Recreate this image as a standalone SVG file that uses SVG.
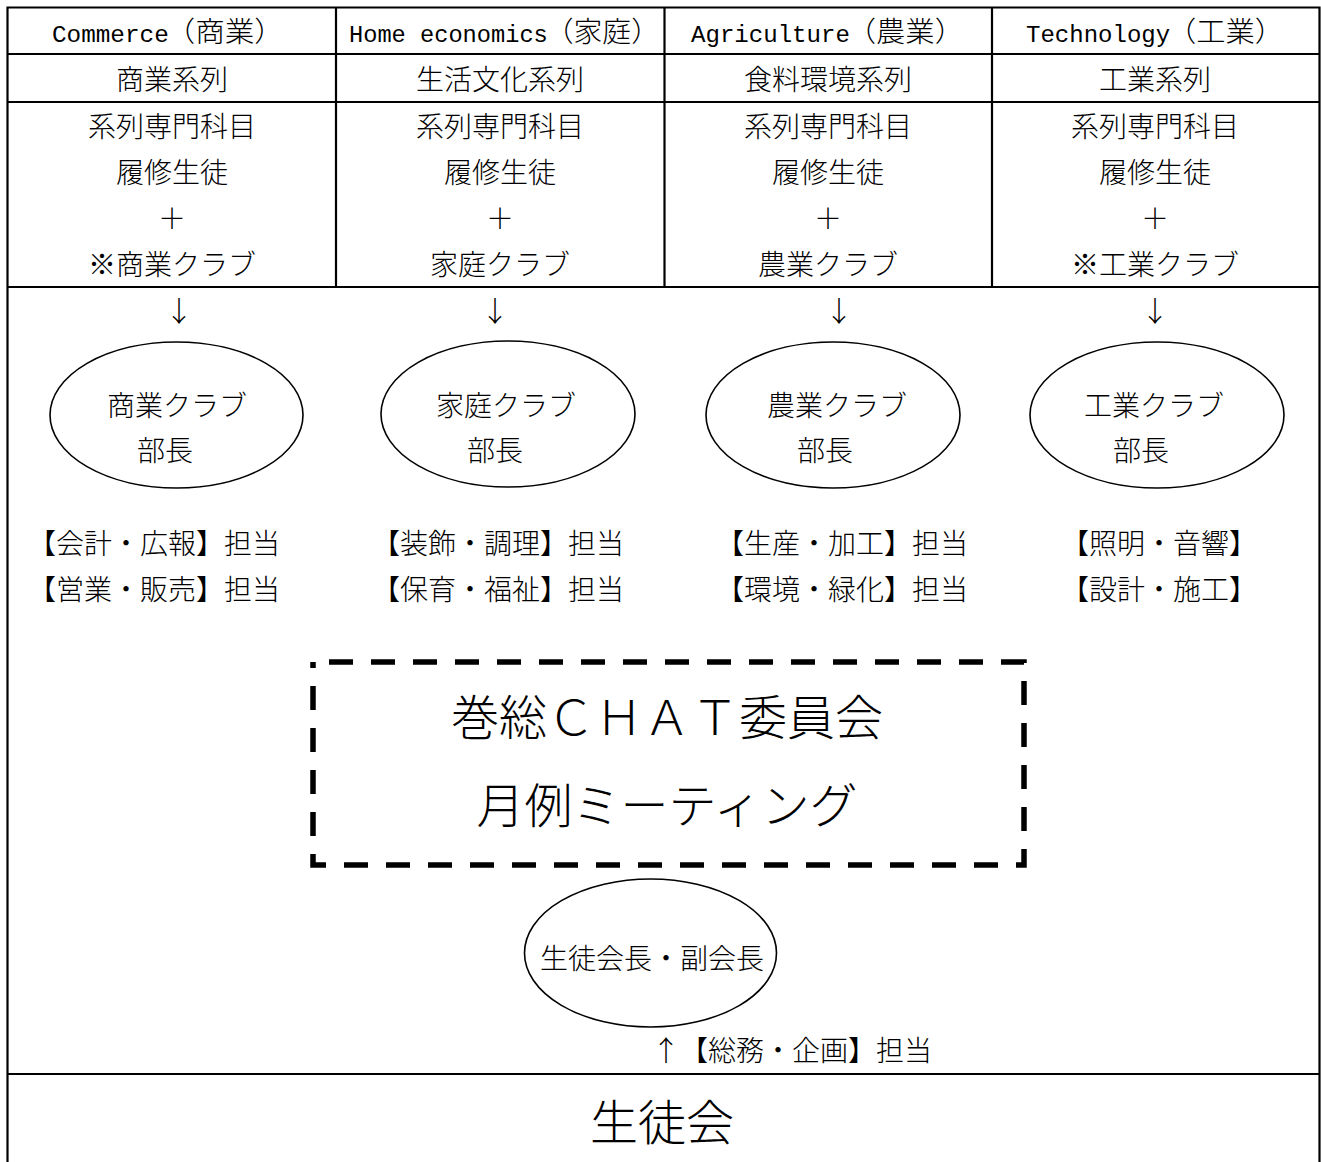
<svg xmlns="http://www.w3.org/2000/svg" width="1321" height="1162" viewBox="0 0 1321 1162">
<style>
.t { font-family: 'Noto Sans CJK JP', sans-serif; font-size: 28px; font-weight: 300; fill: #000; }
.m { text-anchor: middle; }
.lat { font-family: 'Liberation Mono', 'Noto Sans CJK JP', monospace; font-size: 23px; fill: #000; }
.cj { font-family: 'Noto Sans CJK JP', sans-serif; font-size: 28px; font-weight: 300; }
.big { font-size: 48px; }
.ln { stroke: #000; stroke-width: 2.2; fill: none; }
.ell { fill: #fff; stroke: #000; stroke-width: 1.6; }
.dash { fill: none; stroke: #000; stroke-width: 5.5; stroke-dasharray: 24 18; stroke-dashoffset: 26; }
</style>
<rect width="1321" height="1162" fill="#fff"/>

<g id="table">
  <path class="ln" d="M7.5,1162 V7.5 H1319.5 V1162 M7.5,54 H1319.5 M7.5,102 H1319.5 M7.5,287 H1319.5 M336,7.5 V287 M664.5,7.5 V287 M992,7.5 V287 M7.5,1074 H1319.5"/>
</g>

<g id="col-commerce">
  <text class="lat" x="52" y="42" textLength="232" lengthAdjust="spacingAndGlyphs">Commerce<tspan class="cj" dx="-3">（商業）</tspan></text>
  <text class="t m" x="172" y="90">商業系列</text>
  <text class="t m" x="172" y="137">系列専門科目</text>
  <text class="t m" x="172" y="183">履修生徒</text>
  <text class="t m" x="172" y="229">＋</text>
  <text class="t m" x="172" y="275">※商業クラブ</text>
</g>
<g id="col-home">
  <text class="lat" x="349" y="42" textLength="311" lengthAdjust="spacingAndGlyphs">Home economics<tspan class="cj" dx="-3">（家庭）</tspan></text>
  <text class="t m" x="500" y="90">生活文化系列</text>
  <text class="t m" x="500" y="137">系列専門科目</text>
  <text class="t m" x="500" y="183">履修生徒</text>
  <text class="t m" x="500" y="229">＋</text>
  <text class="t m" x="500" y="275">家庭クラブ</text>
</g>
<g id="col-agri">
  <text class="lat" x="691" y="42" textLength="273" lengthAdjust="spacingAndGlyphs">Agriculture<tspan class="cj" dx="-3">（農業）</tspan></text>
  <text class="t m" x="828" y="90">食料環境系列</text>
  <text class="t m" x="828" y="137">系列専門科目</text>
  <text class="t m" x="828" y="183">履修生徒</text>
  <text class="t m" x="828" y="229">＋</text>
  <text class="t m" x="828" y="275">農業クラブ</text>
</g>
<g id="col-tech">
  <text class="lat" x="1026" y="42" textLength="258" lengthAdjust="spacingAndGlyphs">Technology<tspan class="cj" dx="-3">（工業）</tspan></text>
  <text class="t m" x="1155" y="90">工業系列</text>
  <text class="t m" x="1155" y="137">系列専門科目</text>
  <text class="t m" x="1155" y="183">履修生徒</text>
  <text class="t m" x="1155" y="229">＋</text>
  <text class="t m" x="1155" y="275">※工業クラブ</text>
</g>

<g id="connectors">
  <text class="t m" x="179" y="322">↓</text>
  <text class="t m" x="495" y="322">↓</text>
  <text class="t m" x="839" y="322">↓</text>
  <text class="t m" x="1155" y="322">↓</text>
  <text class="t" x="652" y="1061">↑【総務・企画】担当</text>
</g>

<g id="club-commerce">
  <ellipse class="ell" cx="176.5" cy="415" rx="126.5" ry="73"/>
  <text class="t m" x="177" y="416">商業クラブ</text>
  <text class="t m" x="165" y="461">部長</text>
</g>
<g id="club-home">
  <ellipse class="ell" cx="508" cy="414" rx="127" ry="73"/>
  <text class="t m" x="506" y="416">家庭クラブ</text>
  <text class="t m" x="495" y="461">部長</text>
</g>
<g id="club-agri">
  <ellipse class="ell" cx="833" cy="415" rx="127" ry="73"/>
  <text class="t m" x="837" y="416">農業クラブ</text>
  <text class="t m" x="825" y="461">部長</text>
</g>
<g id="club-tech">
  <ellipse class="ell" cx="1157" cy="415" rx="127" ry="73"/>
  <text class="t m" x="1154" y="416">工業クラブ</text>
  <text class="t m" x="1141" y="461">部長</text>
</g>

<g id="roles">
  <text class="t" x="28" y="554">【会計・広報】担当</text>
  <text class="t" x="28" y="600">【営業・販売】担当</text>
  <text class="t" x="372" y="554">【装飾・調理】担当</text>
  <text class="t" x="372" y="600">【保育・福祉】担当</text>
  <text class="t" x="716" y="554">【生産・加工】担当</text>
  <text class="t" x="716" y="600">【環境・緑化】担当</text>
  <text class="t" x="1061" y="554">【照明・音響】</text>
  <text class="t" x="1061" y="600">【設計・施工】</text>
</g>

<g id="committee">
  <path class="dash" d="M313,662 H1024 V865 H313 Z"/>
  <text class="t m big" x="667" y="735">巻総ＣＨＡＴ委員会</text>
  <text class="t m big" x="667" y="823">月例ミーティング</text>
</g>

<g id="president">
  <ellipse class="ell" cx="650.5" cy="953" rx="126" ry="74"/>
  <text class="t m" x="652" y="969">生徒会長・副会長</text>
</g>

<g id="council">
  <text class="t m big" x="662" y="1140">生徒会</text>
</g>
</svg>
